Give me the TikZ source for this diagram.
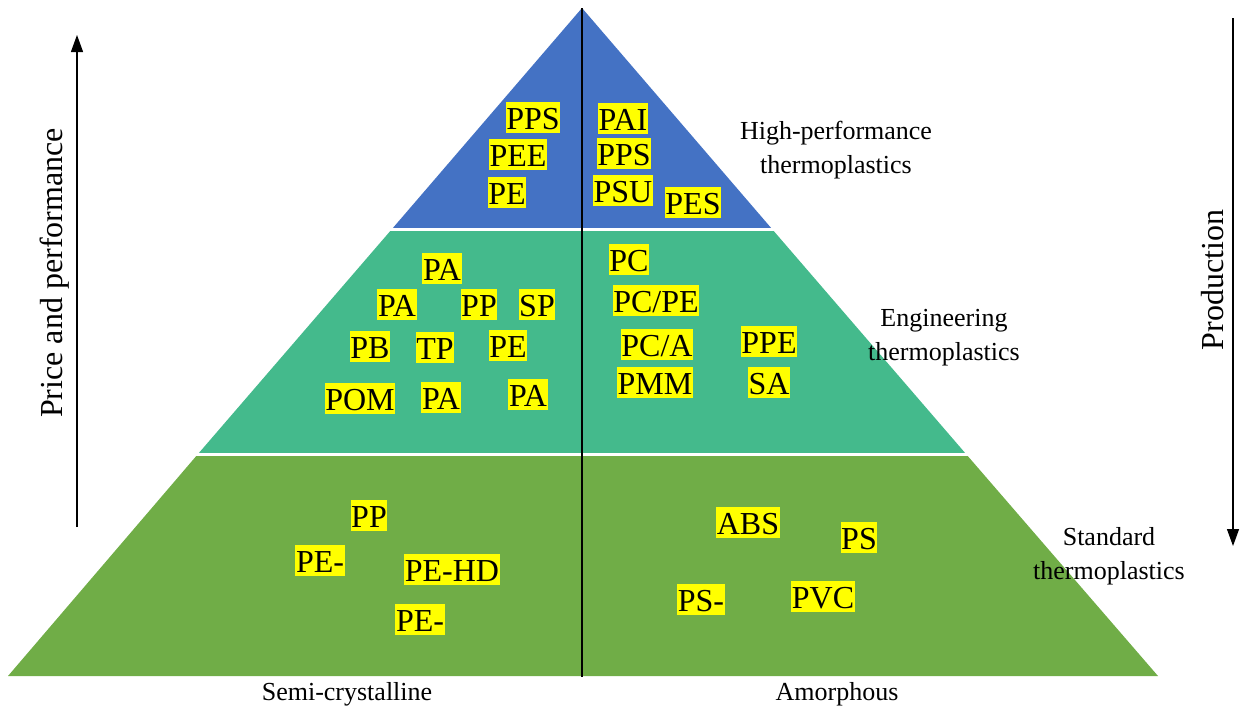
\documentclass[tikz,border=0pt]{standalone}
\usepackage{fontspec}
\setmainfont{Liberation Serif}
\usetikzlibrary{arrows.meta}
\definecolor{tierblue}{HTML}{4472C4}
\definecolor{tierteal}{HTML}{44BA8C}
\definecolor{tiergreen}{HTML}{70AD47}
\definecolor{marker}{HTML}{FFFF00}
\begin{document}
\begin{tikzpicture}[x=1pt,y=-1pt,
  tag/.style={fill=marker, inner xsep=0.6pt, inner ysep=0pt,
    text height=28pt, text depth=3pt, font=\fontsize{32}{36}\selectfont},
  side/.style={align=center, inner sep=0pt, font=\fontsize{26}{34}\selectfont},
  axislabel/.style={inner sep=0pt, rotate=90, font=\fontsize{32}{36}\selectfont},
  axisarrow/.style={line width=1.2pt, -{Triangle[width=12pt,length=17pt]}}]
\useasboundingbox (0,0) rectangle (1242,710);

% pyramid outline points
\coordinate (apex) at (582,8);
\coordinate (bl) at (8,676);
\coordinate (br) at (1158,676);
\coordinate (base) at (582,677);
\coordinate (l1) at (392,229);
\coordinate (r1) at (772,229);
\coordinate (l2) at (198,454);
\coordinate (r2) at (966,454);

% three tiers
\fill[tierblue] (apex) -- (r1) -- (l1) -- cycle;
\fill[tierteal] (l1) -- (r1) -- (r2) -- (l2) -- cycle;
\fill[tiergreen] (l2) -- (r2) -- (br) -- (bl) -- cycle;
\coordinate (s1a) at (380,229);
\coordinate (s1b) at (786,229);
\coordinate (s2a) at (186,454);
\coordinate (s2b) at (980,454);
\draw[white, line width=3pt] (s1a) -- (s1b);
\draw[white, line width=3pt] (s2a) -- (s2b);

% split between semi-crystalline and amorphous
\draw[black, line width=1.6pt] (apex) -- (base);

% high-performance tier
\node[tag] (h1) at (533,117) {PPS};
\node[tag] (h2) at (518,154) {PEE};
\node[tag] (h3) at (507,192) {PE};
\node[tag] (h4) at (623,118) {PAI};
\node[tag] (h5) at (624,153) {PPS};
\node[tag] (h6) at (623,190) {PSU};
\node[tag] (h7) at (693,202) {PES};

% engineering tier
\node[tag] (e1) at (442,268) {PA};
\node[tag] (e2) at (397,304) {PA};
\node[tag] (e3) at (479,304) {PP};
\node[tag] (e4) at (537,304) {SP};
\node[tag] (e5) at (370,346) {PB};
\node[tag] (e6) at (435,347) {TP};
\node[tag] (e7) at (508,345) {PE};
\node[tag] (e8) at (360,398) {POM};
\node[tag] (e9) at (441,397) {PA};
\node[tag] (e10) at (528,394) {PA};
\node[tag] (e11) at (629,259) {PC};
\node[tag] (e12) at (656,300) {PC/PE};
\node[tag] (e13) at (657,344) {PC/A};
\node[tag] (e14) at (655,382) {PMM};
\node[tag] (e15) at (769,341) {PPE};
\node[tag] (e16) at (769,382) {SA};

% standard tier
\node[tag] (s1) at (369,515) {PP};
\node[tag] (s2) at (320,560) {PE-};
\node[tag] (s3) at (452,569) {PE-HD};
\node[tag] (s4) at (420,619) {PE-};
\node[tag] (s5) at (748,522) {ABS};
\node[tag] (s6) at (859,537) {PS};
\node[tag] (s7) at (701,599) {PS-};
\node[tag] (s8) at (823,596) {PVC};

% tier names
\node[side] (t1) at (836,150) {High-performance\\thermoplastics};
\node[side] (t2) at (944,338) {Engineering\\thermoplastics};
\node[side] (t3) at (1109,556) {Standard\\thermoplastics};
\node[side] (c1) at (347,694) {Semi-crystalline};
\node[side] (c2) at (837,694) {Amorphous};

% axes
\coordinate (pa0) at (77,527);
\coordinate (pa1) at (77,35);
\draw[axisarrow] (pa0) -- (pa1);
\node[axislabel] (pl) at (55,273) {Price and performance};
\coordinate (pr0) at (1233,18);
\coordinate (pr1) at (1233,546);
\draw[axisarrow] (pr0) -- (pr1);
\node[axislabel] (prl) at (1213,280) {Production};
\end{tikzpicture}
\end{document}
